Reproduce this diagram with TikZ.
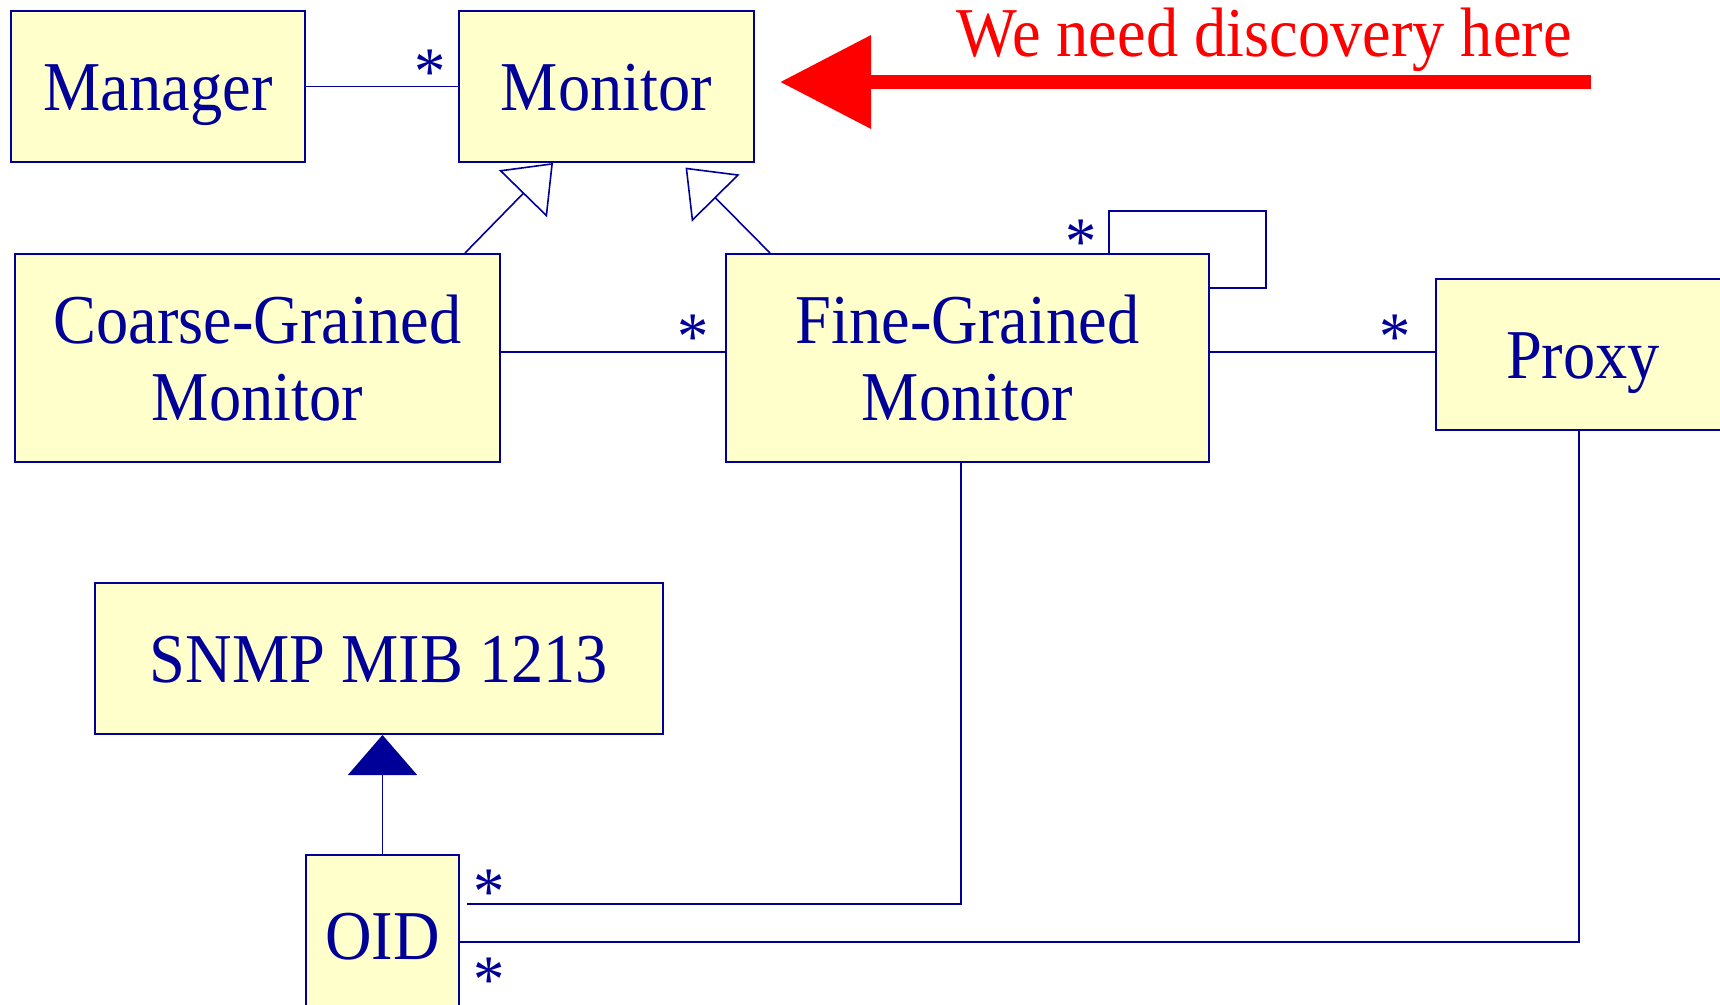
\documentclass[tikz,border=0pt]{standalone}
\usepackage{fontspec}
\setmainfont{Liberation Serif}[FakeStretch=0.92]
\usetikzlibrary{arrows.meta}
\definecolor{umlblue}{RGB}{0,0,153}
\definecolor{umlfill}{RGB}{255,255,204}
\definecolor{noteRed}{RGB}{255,0,0}
\tikzset{
  classbox/.style={draw=umlblue, fill=umlfill, line width=1pt, text=umlblue,
    inner sep=0pt, align=center, font=\fontsize{35}{38.5}\selectfont},
  oneline/.style={text height=24pt, text depth=0pt},
  assoc/.style={draw=umlblue, line width=0.8pt},
  inherit/.style={assoc, -{Triangle[open, length=21.5pt, width=33.5pt]}},
  realize/.style={assoc, -{Triangle[length=20pt, width=34.5pt]}},
  mult/.style={text=umlblue, inner sep=0pt, anchor=base, font=\fontsize{34}{38}\selectfont},
  hint/.style={draw=noteRed, line width=7pt, -{Triangle[length=45.5pt, width=45pt]}},
}
\begin{document}
\begin{tikzpicture}[x=0.5pt, y=-0.5pt]
\useasboundingbox (0,0) rectangle (1720,1005);

% classes
\node[classbox, oneline, minimum width=147pt, minimum height=75.5pt] (manager) at (158,86.5) {Manager};
\node[classbox, oneline, minimum width=147.5pt, minimum height=75.5pt] (monitor) at (606.5,86.5) {Monitor};
\node[classbox, minimum width=242.5pt, minimum height=104pt] (coarse) at (257.5,358) {Coarse-Grained\\Monitor};
\node[classbox, minimum width=241.5pt, minimum height=104pt] (fine) at (967.5,358) {Fine-Grained\\Monitor};
\node[classbox, oneline, minimum width=147pt, minimum height=75.5pt] (proxy) at (1583,354.5) {Proxy};
\node[classbox, oneline, minimum width=284pt, minimum height=75.5pt] (snmp) at (379,658.5) {SNMP MIB 1213};
\node[classbox, oneline, minimum width=76.5pt, minimum height=80pt] (oid) at (382.5,935) {OID};

% helper points on the association lines
\coordinate (fineRight) at ([yshift=3pt]fine.east);
\coordinate (loopStart) at ([xshift=-50.5pt]fine.north east);
\coordinate (loopEnd) at ([yshift=-17.5pt]fine.north east);

% associations
\draw[assoc] (manager) -- (monitor);
\draw[assoc] ([yshift=3pt]coarse.east) -- ([yshift=3pt]fine.west);
\draw[assoc] (fineRight) -- (proxy.west |- fineRight);
\draw[assoc] (loopStart) |- (1266,211) |- (loopEnd);
\draw[assoc] ([xshift=3.5pt, yshift=-25pt]oid.north east) -| ([xshift=-3.25pt]fine.south);
\draw[assoc] ([yshift=-44pt]oid.north east) -| ([xshift=-2pt]proxy.south);

% generalisations
\draw[inherit] ([xshift=-18pt]coarse.north east) -- ([xshift=47.5pt]monitor.south west);
\draw[inherit, shorten >=2.5pt] ([xshift=22.5pt]fine.north west) -- ([xshift=112pt, yshift=-0.5pt]monitor.south west);
\draw[realize] (oid.north) -- (oid.north |- snmp.south);

% multiplicities
\node[mult] (m1) at (430,95) {*};
\node[mult] (m2) at (693,360) {*};
\node[mult] (m3) at (1395,360) {*};
\node[mult] (m4) at (1081,265) {*};
\node[mult] (m5) at (489,914) {*};
\node[mult] (m6) at (489,1002) {*};

% discovery note
\coordinate (hintTail) at (1591,82);
\draw[hint, shorten >=12.5pt] (hintTail) -- (monitor.east |- hintTail);
\node[text=noteRed, anchor=base, inner sep=0pt, font=\fontsize{35}{38}\selectfont] (note) at (1264,57) {We need discovery here};
\end{tikzpicture}
\end{document}
